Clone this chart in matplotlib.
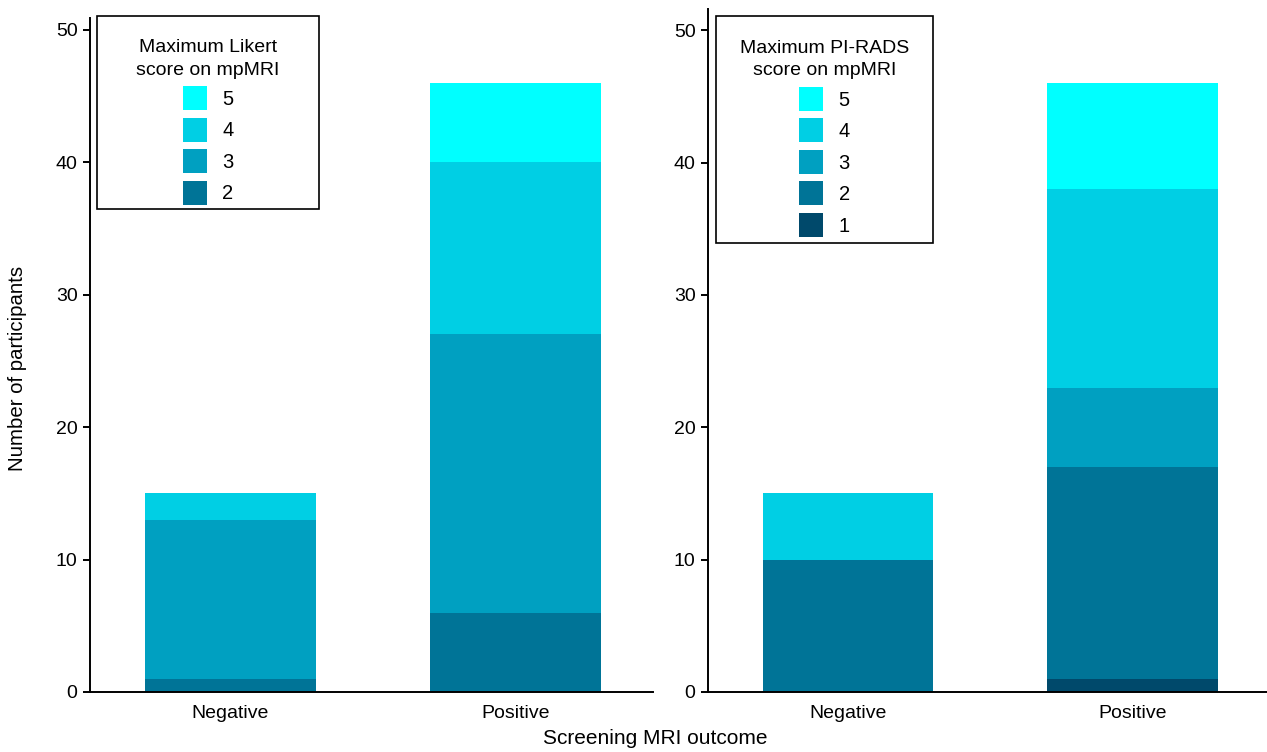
import numpy as np
import matplotlib
matplotlib.use("Agg")
import matplotlib.pyplot as plt
from matplotlib.patches import Rectangle

plt.rcParams['font.family'] = ['Liberation Sans', 'DejaVu Sans']

outcomes = ["Negative", "Positive"]

# left panel: Likert score counts
likert_scores = ["2", "3", "4", "5"]
likert_neg = [1, 12, 2, 0]
likert_pos = [6, 21, 13, 6]

# right panel: PI-RADS score counts
pirads_scores = ["1", "2", "3", "4", "5"]
pirads_neg = [0, 10, 0, 5, 0]
pirads_pos = [1, 16, 6, 15, 8]

score_colors = {"1": "#00496b", "2": "#007497", "3": "#00a0c1", "4": "#00cfe4", "5": "#00ffff"}

fig = plt.figure(figsize=(12.67, 7.52), dpi=100)
W, H = 1267, 752
ax1 = fig.add_axes([90 / W, 60 / H, (653 - 90) / W, (692 - 18) / H])
ax2 = fig.add_axes([708 / W, 60 / H, (1267 - 708) / W, (692 - 9) / H])


def stacked(ax, scores, neg, pos, ytop, xright, title, box, leg_anchor):
    x = np.arange(len(outcomes))
    bottom = np.zeros(len(outcomes))
    handles = []
    for i, s in enumerate(scores):
        vals = np.array([neg[i], pos[i]])
        b = ax.bar(x, vals, width=0.6, bottom=bottom, color=score_colors[s], linewidth=0, label=s)
        handles.append(b)
        bottom += vals
    ax.set_xlim(-0.493, xright)
    ax.set_ylim(0, ytop)
    ax.set_yticks([0, 10, 20, 30, 40, 50])
    ax.set_xticks(x)
    ax.set_xticklabels(outcomes)
    ax.tick_params(axis='x', length=0, pad=9, labelsize=14)
    ax.tick_params(axis='y', length=5, width=1.4, pad=4, labelsize=14)
    for sp in ['top', 'right']:
        ax.spines[sp].set_visible(False)
    for sp in ['left', 'bottom']:
        ax.spines[sp].set_linewidth(1.4)
    # legend, entries reversed (highest score on top)
    leg = ax.legend(handles[::-1], scores[::-1], title=title, loc='upper center',
                    bbox_to_anchor=leg_anchor, frameon=False, borderpad=0,
                    fontsize=14.5, title_fontsize=14, handlelength=1.2, handleheight=1.46,
                    labelspacing=0.37, handletextpad=0.75)
    leg.get_title().set_multialignment('center')
    leg.get_title().set_linespacing(1.45)
    ax.add_patch(Rectangle((box[0], box[1]), box[2] - box[0], box[3] - box[1],
                           transform=ax.transAxes, fill=False, edgecolor='black',
                           linewidth=1.2, clip_on=False, zorder=5))


stacked(ax1, likert_scores, likert_neg, likert_pos, 50.9, 1.482,
        "Maximum Likert\nscore on mpMRI", (0.0124, 0.717, 0.4067, 1.003), (0.2096, 0.984))
stacked(ax2, pirads_scores, pirads_neg, pirads_pos, 51.6, 1.474,
        "Maximum PI-RADS\nscore on mpMRI", (0.0143, 0.657, 0.4025, 0.990), (0.2084, 0.970))

fig.text(18 / W, 0.51, "Number of participants", rotation=90, ha='center', va='center', fontsize=14.7)
fig.text(655 / W, 1 - 738 / H, "Screening MRI outcome", ha='center', va='center', fontsize=15)

fig.savefig("out.png", dpi=100)
